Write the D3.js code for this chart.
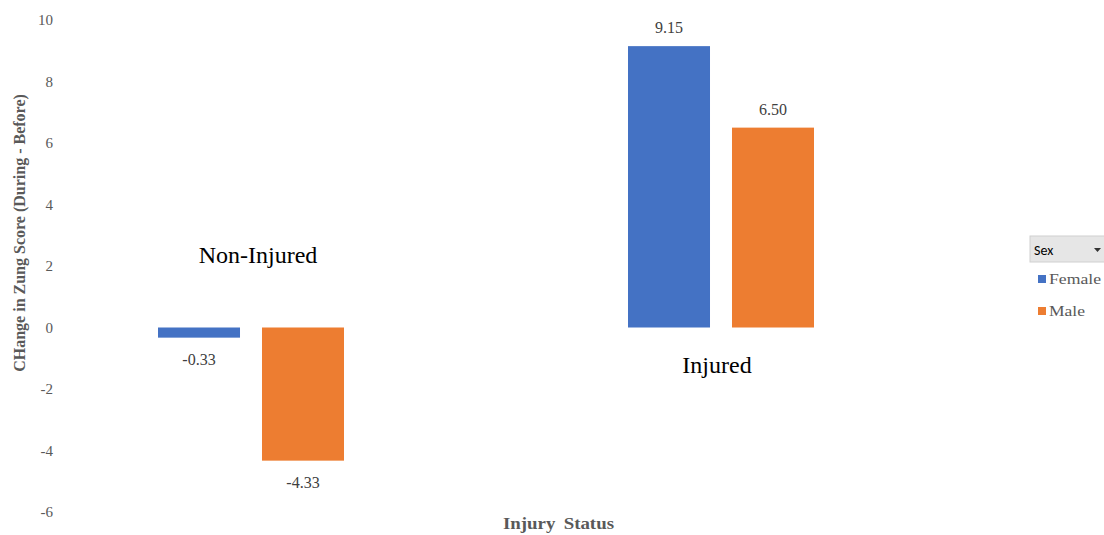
<!DOCTYPE html>
<html>
<head>
<meta charset="utf-8">
<script src="https://cdn.jsdelivr.net/npm/d3@7"></script>
<style>
  html, body { margin: 0; padding: 0; background: #fff; }
  svg { display: block; }
</style>
</head>
<body>
<svg id="chart" width="1104" height="535"></svg>
<script>
// Change in Zung score by injury status and sex
const categories = ["Non-Injured", "Injured"];
const sexes = ["Female", "Male"];
const femaleValues = [-0.33, 9.15];
const maleValues = [-4.33, 6.50];
const yTicks = [10, 8, 6, 4, 2, 0, -2, -4, -6];

const colors = { Female: "#4472C4", Male: "#ED7D31" };
const serif = "'Liberation Serif', 'Times New Roman', serif";
const gray = "#595959";

const rows = categories.map((c, i) => ({
  category: c,
  values: [
    { sex: "Female", value: femaleValues[i] },
    { sex: "Male", value: maleValues[i] }
  ]
}));

const svg = d3.select("#chart");

const y = d3.scaleLinear().domain([-6, 10]).range([512, 20]);

const x0 = d3.scaleBand().domain(categories).range([16, 956]).padding(0);
const groupWidth = 186;
const x1 = d3.scaleBand().domain(sexes)
  .range([x0.bandwidth() / 2 - groupWidth / 2, x0.bandwidth() / 2 + groupWidth / 2])
  .paddingInner(0.2115).paddingOuter(0);

// Y axis: labels only, no line or ticks
const yAxis = svg.append("g")
  .attr("transform", "translate(57,0)")
  .call(d3.axisLeft(y).tickValues(yTicks).tickSize(0).tickPadding(4).tickFormat(d => String(d)));
yAxis.select(".domain").remove();
yAxis.selectAll("text")
  .attr("fill", gray)
  .style("font-family", serif)
  .style("font-size", "15px");

// Bars
const groups = svg.append("g").selectAll("g")
  .data(rows)
  .join("g")
  .attr("transform", d => `translate(${x0(d.category)},0)`);

groups.selectAll("rect")
  .data(d => d.values)
  .join("rect")
  .attr("x", d => x1(d.sex))
  .attr("width", x1.bandwidth())
  .attr("y", d => y(Math.max(0, d.value)))
  .attr("height", d => Math.abs(y(d.value) - y(0)))
  .attr("fill", d => colors[d.sex]);

// Value labels
groups.selectAll("text.value")
  .data(d => d.values)
  .join("text")
  .attr("class", "value")
  .attr("x", d => x1(d.sex) + x1.bandwidth() / 2)
  .attr("y", d => d.value >= 0 ? y(d.value) - 13 : y(d.value) + 27)
  .attr("text-anchor", "middle")
  .attr("fill", "#404040")
  .style("font-family", serif)
  .style("font-size", "16px")
  .text(d => d.value.toFixed(2));

// Category labels
const catLabelY = { "Non-Injured": y(0) - 65, "Injured": y(0) + 45 };
svg.append("g").selectAll("text")
  .data(categories)
  .join("text")
  .attr("x", (d, i) => x0(d) + x0.bandwidth() / 2 + (i === 0 ? 7 : -4))
  .attr("y", d => catLabelY[d])
  .attr("text-anchor", "middle")
  .attr("fill", "#000")
  .style("font-family", serif)
  .style("font-size", "24px")
  .text(d => d);

// Axis titles
svg.append("text")
  .attr("transform", "translate(25,233) rotate(-90)")
  .attr("text-anchor", "middle")
  .attr("fill", gray)
  .style("font-family", serif)
  .style("font-size", "16px")
  .style("font-weight", "bold")
  .text("CHange in Zung Score (During - Before)");

svg.append("text")
  .attr("x", 503)
  .attr("y", 529)
  .attr("fill", gray)
  .attr("textLength", 111)
  .attr("lengthAdjust", "spacingAndGlyphs")
  .style("font-family", serif)
  .style("font-size", "16px")
  .style("font-weight", "bold")
  .style("word-spacing", "3px")
  .text("Injury Status");

// Legend with field button
const legend = svg.append("g");
legend.append("rect")
  .attr("x", 1030).attr("y", 236)
  .attr("width", 80).attr("height", 26)
  .attr("fill", "#e6e6e6")
  .attr("stroke", "#d0d0d0");
legend.append("text")
  .attr("x", 1034).attr("y", 255)
  .attr("fill", "#000")
  .style("font-family", "'Carlito', 'Liberation Sans', sans-serif")
  .style("font-size", "14px")
  .text("Sex");
legend.append("path")
  .attr("d", "M1094,248 L1101,248 L1097.5,252 Z")
  .attr("fill", "#333");

const legendTextWidth = { Female: 52, Male: 36 };
const items = legend.selectAll("g.item")
  .data(sexes)
  .join("g")
  .attr("class", "item")
  .attr("transform", (d, i) => `translate(1038,${275 + i * 32})`);
items.append("rect")
  .attr("width", 8).attr("height", 8)
  .attr("fill", d => colors[d]);
items.append("text")
  .attr("x", 11).attr("y", 9)
  .attr("fill", gray)
  .attr("textLength", d => legendTextWidth[d])
  .attr("lengthAdjust", "spacingAndGlyphs")
  .style("font-family", serif)
  .style("font-size", "15px")
  .text(d => d);
</script>
</body>
</html>
